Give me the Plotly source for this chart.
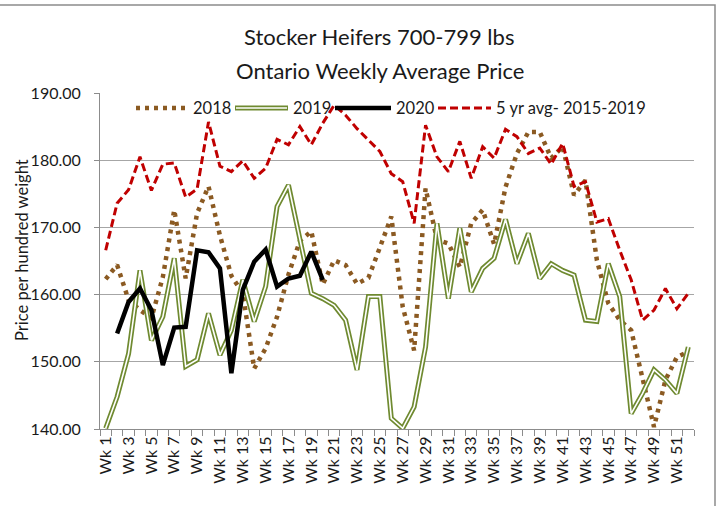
import plotly.graph_objects as go

weeks = ["Wk 1", "Wk 2", "Wk 3", "Wk 4", "Wk 5", "Wk 6", "Wk 7", "Wk 8", "Wk 9", "Wk 10",
         "Wk 11", "Wk 12", "Wk 13", "Wk 14", "Wk 15", "Wk 16", "Wk 17", "Wk 18", "Wk 19", "Wk 20",
         "Wk 21", "Wk 22", "Wk 23", "Wk 24", "Wk 25", "Wk 26", "Wk 27", "Wk 28", "Wk 29", "Wk 30",
         "Wk 31", "Wk 32", "Wk 33", "Wk 34", "Wk 35", "Wk 36", "Wk 37", "Wk 38", "Wk 39", "Wk 40",
         "Wk 41", "Wk 42", "Wk 43", "Wk 44", "Wk 45", "Wk 46", "Wk 47", "Wk 48", "Wk 49", "Wk 50",
         "Wk 51", "Wk 52"]

y2018 = [162.3, 164.4, 159.2, 157.7, 156.5, 162.6, 172.6, 162.4, 172.1, 176.1,
         168.8, 162.8, 160.2, 149.0, 152.0, 156.7, 163.0, 168.0, 169.4, 161.5,
         165.1, 164.4, 161.6, 162.5, 167.0, 171.6, 158.2, 151.7, 175.8, 168.2,
         167.6, 164.1, 170.6, 172.6, 167.5, 176.0, 181.0, 184.2, 184.2, 180.3,
         182.0, 174.8, 177.0, 165.1, 158.7, 156.2, 154.7, 147.8, 140.3, 147.3,
         150.7, 151.5]

y2019 = [140.1, 144.8, 151.2, 163.6, 153.2, 156.7, 165.4, 149.3, 150.3, 157.2,
         151.0, 154.7, 162.2, 156.0, 161.2, 173.1, 176.3, 168.0, 160.2, 159.4,
         158.4, 156.2, 148.8, 159.7, 159.7, 141.6, 140.1, 143.3, 152.2, 170.6,
         159.4, 169.9, 160.4, 163.9, 165.4, 171.2, 164.6, 169.1, 162.4, 164.6,
         163.6, 162.9, 156.2, 156.0, 164.6, 159.7, 142.3, 145.3, 148.8, 147.3,
         145.3, 152.2]

y2020 = [None, 154.2, 158.9, 160.9, 157.7, 149.5, 155.1, 155.2, 166.6, 166.3,
         163.9, 148.3, 160.7, 164.9, 166.7, 161.2, 162.4, 162.8, 166.4, 162.2]

y5yr = [166.6, 173.6, 175.6, 180.5, 175.5, 179.4, 179.6, 174.5, 175.7, 185.7,
        179.1, 178.3, 179.9, 177.3, 178.8, 183.1, 182.3, 185.0, 182.3, 185.5,
        188.2, 186.7, 184.7, 183.0, 181.3, 178.0, 176.8, 170.6, 185.2, 180.5,
        178.3, 182.8, 177.3, 182.0, 180.3, 184.6, 183.5, 181.0, 181.8, 179.4,
        182.5, 176.1, 176.8, 170.8, 171.3, 166.6, 162.2, 156.2, 157.7, 160.9,
        157.9, 160.2]

series_names = ["2018", "2019", "2020", "5 yr avg- 2015-2019"]
tick_labels = [w if i % 2 == 0 else "" for i, w in enumerate(weeks)]
y_ticks = [140, 150, 160, 170, 180, 190]

FONT = "Lato, 'Open Sans', sans-serif"
TXT = "#1a1a1a"
BROWN = "#8B5A22"
GREEN = "#6F8A30"
RED = "#C00000"
DOT = "4px,5px"
DASH = "8px,4px"

fig = go.Figure()
fig.add_trace(go.Scatter(x=weeks, y=y2018, mode="lines", name=series_names[0],
                         line=dict(color=BROWN, width=4.5, dash=DOT), showlegend=False))
fig.add_trace(go.Scatter(x=weeks, y=y2019, mode="lines", name=series_names[1],
                         line=dict(color=GREEN, width=5), showlegend=False))
fig.add_trace(go.Scatter(x=weeks, y=y2019, mode="lines", name=series_names[1] + " inner",
                         line=dict(color="white", width=1.6), showlegend=False, hoverinfo="skip"))
fig.add_trace(go.Scatter(x=weeks[:len(y2020)], y=y2020, mode="lines", name=series_names[2],
                         line=dict(color="black", width=4.5), showlegend=False))
fig.add_trace(go.Scatter(x=weeks, y=y5yr, mode="lines", name=series_names[3],
                         line=dict(color=RED, width=3, dash=DASH), showlegend=False))

# plot area in pixels: x 100..694, y 93..429
L, R, T, B = 100, 694, 93, 429
W, H = R - L, B - T


def px(p):
    return (p - L) / W


def py(q):
    return (B - q) / H


shapes = []
# outer frame
shapes.append(dict(type="rect", xref="paper", yref="paper", x0=px(-5), x1=px(715),
                   y0=py(520), y1=py(5), line=dict(color="#8c8c8c", width=1.5), layer="below"))
# manual legend
ly = py(108)
shapes.append(dict(type="line", xref="paper", yref="paper", x0=px(136), x1=px(188), y0=ly, y1=ly,
                   line=dict(color=BROWN, width=4.5, dash=DOT)))
shapes.append(dict(type="line", xref="paper", yref="paper", x0=px(235), x1=px(288), y0=ly, y1=ly,
                   line=dict(color=GREEN, width=5)))
shapes.append(dict(type="line", xref="paper", yref="paper", x0=px(236), x1=px(287), y0=ly, y1=ly,
                   line=dict(color="white", width=1.6)))
shapes.append(dict(type="line", xref="paper", yref="paper", x0=px(335), x1=px(391), y0=ly, y1=ly,
                   line=dict(color="black", width=4.5)))
shapes.append(dict(type="line", xref="paper", yref="paper", x0=px(438), x1=px(491), y0=ly, y1=ly,
                   line=dict(color=RED, width=3, dash=DASH)))

annotations = []
for txt, xl in zip(series_names, [191, 291, 394, 494]):
    annotations.append(dict(text=txt, xref="paper", yref="paper", x=px(xl), y=ly,
                            xanchor="left", yanchor="middle", showarrow=False,
                            font=dict(family=FONT, size=16.5, color=TXT)))
annotations.append(dict(text="Stocker Heifers 700-799 lbs", xref="paper", yref="paper",
                        x=px(379), y=py(37), xanchor="center", yanchor="middle", showarrow=False,
                        font=dict(family=FONT, size=22, color=TXT)))
annotations.append(dict(text="Ontario Weekly Average Price", xref="paper", yref="paper",
                        x=px(380), y=py(70), xanchor="center", yanchor="middle", showarrow=False,
                        font=dict(family=FONT, size=22, color=TXT)))
annotations.append(dict(text="Price per hundred weight", xref="paper", yref="paper",
                        x=px(22), y=py(250), xanchor="center", yanchor="middle", showarrow=False,
                        textangle=-90, font=dict(family=FONT, size=16.5, color=TXT)))

fig.update_layout(
    width=720, height=506,
    margin=dict(l=L, r=720 - R, t=T, b=506 - B),
    paper_bgcolor="white", plot_bgcolor="white",
    font=dict(family=FONT, color=TXT),
    showlegend=False,
    shapes=shapes, annotations=annotations,
    xaxis=dict(type="category", categoryorder="array", categoryarray=weeks,
               tickmode="array", tickvals=weeks, ticktext=tick_labels, tickangle=-90,
               tickson="boundaries", ticks="outside", ticklen=6, tickcolor="#8c8c8c",
               showline=True, linecolor="#8c8c8c", linewidth=1, showgrid=False,
               range=[-0.5, len(weeks) - 0.5], tickfont=dict(family=FONT, size=16, color=TXT)),
    yaxis=dict(range=[140, 190], tickmode="array", tickvals=y_ticks,
               ticktext=[f"{v:.2f}" for v in y_ticks],
               ticks="outside", ticklen=5, tickcolor="#8c8c8c", ticklabelstandoff=10,
               showline=True, linecolor="#8c8c8c", linewidth=1,
               showgrid=True, gridcolor="#a6a6a6", gridwidth=1, zeroline=False,
               tickfont=dict(family=FONT, size=16, color=TXT)),
)

fig.write_html("out.html", config={"displayModeBar": False},
               post_script="document.body.style.margin='0';document.body.style.overflow='hidden';")
